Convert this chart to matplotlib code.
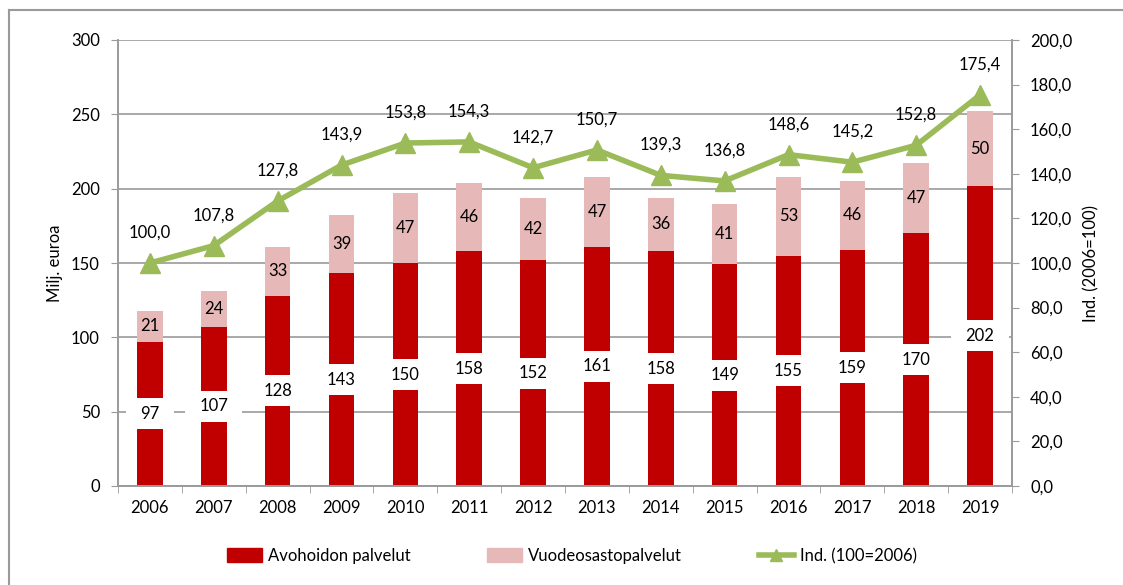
import matplotlib
matplotlib.use("Agg")
import matplotlib.pyplot as plt
from matplotlib.lines import Line2D
from matplotlib.path import Path
import numpy as np

plt.rcParams['font.family'] = ['Lato', 'DejaVu Sans']

years = ['2006', '2007', '2008', '2009', '2010', '2011', '2012', '2013',
         '2014', '2015', '2016', '2017', '2018', '2019']
avohoito = [97, 107, 128, 143, 150, 158, 152, 161, 158, 149, 155, 159, 170, 202]
vuodeosasto = [21, 24, 33, 39, 47, 46, 42, 47, 36, 41, 53, 46, 47, 50]
indeksi = [100.0, 107.8, 127.8, 143.9, 153.8, 154.3, 142.7, 150.7, 139.3,
           136.8, 148.6, 145.2, 152.8, 175.4]

RED = '#C00000'
PINK = '#E6B9B8'
GREEN = '#9BBB59'
GRID = '#9A9A9A'
FS = 12


def wide_box(x0, y0, width, height, mutation_size):
    px = 0.85 * mutation_size
    py = 0.45 * mutation_size
    x0, y0 = x0 - px, y0 - py
    x1, y1 = x0 + width + 2 * px, y0 + height + 2 * py
    return Path([(x0, y0), (x1, y0), (x1, y1), (x0, y1), (x0, y0)], closed=True)


W, H = 1123, 585
fig = plt.figure(figsize=(W / 100, H / 100), dpi=100)
ax = fig.add_axes([118 / W, 1 - 486 / H, (1012 - 118) / W, (486 - 40) / H])
ax2 = ax.twinx()

x = np.arange(len(years))
bw = 0.4
ax.bar(x, avohoito, bw, color=RED, zorder=2, label='Avohoidon palvelut')
ax.bar(x, vuodeosasto, bw, bottom=avohoito, color=PINK, zorder=2,
       label='Vuodeosastopalvelut')

for i in range(len(years)):
    ax.text(x[i], avohoito[i] / 2, str(avohoito[i]), ha='center', va='center',
            fontsize=FS, color='black', zorder=4,
            bbox=dict(boxstyle=wide_box, fc='white', ec='none'))
    ax.text(x[i], avohoito[i] + vuodeosasto[i] / 2, str(vuodeosasto[i]),
            ha='center', va='center', fontsize=FS, color='black', zorder=4)

ax.set_xlim(-0.5, len(years) - 0.5)
ax.set_ylim(0, 300)
ax.set_yticks(range(0, 301, 50))
ax.set_xticks(x)
ax.set_xticklabels(years)
ax.set_xticks(np.arange(-0.5, len(years), 1), minor=True)
ax.tick_params(axis='x', which='major', length=0, pad=10, labelsize=FS)
ax.tick_params(axis='x', which='minor', length=5, color=GRID, direction='out')
ax.tick_params(axis='y', length=5, color=GRID, labelsize=FS, pad=8)
ax.grid(axis='y', color=GRID, linewidth=1.2, zorder=0)
ax.set_axisbelow(True)
ax.set_ylabel('Milj. euroa', fontsize=FS, labelpad=6)

ax2.plot(x, indeksi, color=GREEN, linewidth=4, marker='^', markersize=14,
         zorder=5, label='Ind. (100=2006)')
for i in range(len(years)):
    ax2.text(x[i], indeksi[i] + 10, f'{indeksi[i]:.1f}'.replace('.', ','),
             ha='center', va='bottom', fontsize=FS, color='black')
ax2.set_ylim(0, 200)
ax2.set_yticks(range(0, 201, 20))
ax2.set_yticklabels([f'{v:.1f}'.replace('.', ',') for v in range(0, 201, 20)])
ax2.tick_params(axis='y', length=5, color=GRID, labelsize=FS, pad=8)
ax2.set_ylabel('Ind. (2006=100)', fontsize=FS, labelpad=8)

for a in (ax, ax2):
    for s in a.spines.values():
        s.set_color(GRID)
        s.set_linewidth(1.2)
    a.spines['top'].set_visible(False)
ax.set_zorder(1)
ax2.set_zorder(2)
ax2.patch.set_visible(False)

handles = [
    plt.Rectangle((0, 0), 1, 1, color=RED),
    plt.Rectangle((0, 0), 1, 1, color=PINK),
    Line2D([0], [0], color=GREEN, linewidth=4, marker='^', markersize=8),
]
labels = ['Avohoidon palvelut', 'Vuodeosastopalvelut', 'Ind. (100=2006)']
fig.legend(handles, labels, loc='center', bbox_to_anchor=(572 / W, 1 - 556 / H),
           ncol=3, frameon=False, fontsize=FS, handlelength=2.1,
           handleheight=0.9, columnspacing=4.6, handletextpad=0.35)

# outer frame
fig.add_artist(Line2D([9 / W, 9 / W], [0, 1 - 10 / H], transform=fig.transFigure,
                      color=GRID, linewidth=1.5))
fig.add_artist(Line2D([9 / W, 1], [1 - 10 / H, 1 - 10 / H], transform=fig.transFigure,
                      color=GRID, linewidth=1.5))

fig.savefig('out.png', dpi=100)
